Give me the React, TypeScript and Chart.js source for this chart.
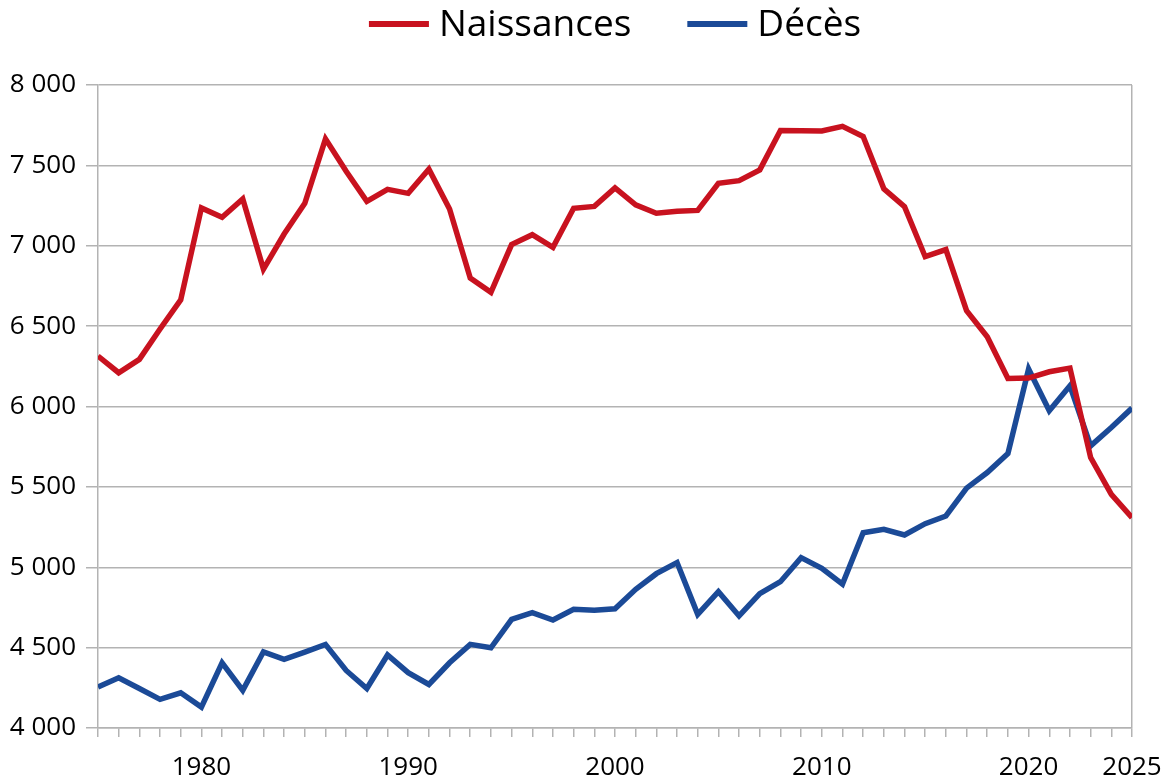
import React, { useEffect, useRef } from "react";
import { Chart, registerables } from "chart.js";

Chart.register(...registerables);

const years = [
  1975, 1976, 1977, 1978, 1979, 1980, 1981, 1982, 1983, 1984,
  1985, 1986, 1987, 1988, 1989, 1990, 1991, 1992, 1993, 1994,
  1995, 1996, 1997, 1998, 1999, 2000, 2001, 2002, 2003, 2004,
  2005, 2006, 2007, 2008, 2009, 2010, 2011, 2012, 2013, 2014,
  2015, 2016, 2017, 2018, 2019, 2020, 2021, 2022, 2023, 2024,
  2025,
];

const naissances = [
  6314, 6210, 6293, 6482, 6664, 7235, 7177, 7291, 6855, 7073,
  7264, 7665, 7463, 7276, 7351, 7326, 7476, 7229, 6799, 6710,
  7007, 7069, 6990, 7233, 7245, 7360, 7254, 7202, 7214, 7220,
  7389, 7405, 7472, 7717, 7715, 7714, 7743, 7679, 7354, 7243,
  6932, 6976, 6596, 6434, 6174, 6177, 6216, 6239, 5682, 5454,
  5309,
];

const deces = [
  4255, 4312, 4246, 4178, 4219, 4130, 4406, 4234, 4474, 4427,
  4472, 4520, 4358, 4246, 4454, 4344, 4271, 4406, 4520, 4499,
  4676, 4717, 4672, 4738, 4732, 4742, 4863, 4960, 5029, 4707,
  4848, 4697, 4836, 4910, 5060, 4994, 4895, 5215, 5236, 5201,
  5271, 5319, 5492, 5589, 5707, 6233, 5973, 6129, 5755, 5869,
  5990,
];

const labeledYears = [1980, 1990, 2000, 2010, 2020, 2025];
const seriesNames = ["Naissances", "Décès"];
const seriesColors = ["#c8121f", "#1b4a97"];

const FONT = "'Open Sans', 'Noto Sans', sans-serif";
const GRID = "#b3b3b3";

const formatThousands = (v: number) => {
  const s = Math.round(v).toString();
  return s.replace(/\B(?=(\d{3})+(?!\d))/g, " ");
};

const customLegend = {
  id: "customLegend",
  afterDraw(chart: any) {
    const ctx = chart.ctx;
    const area = chart.chartArea;
    const lineW = 60;
    const gapText = 10;
    const gapItems = 56;
    ctx.save();
    ctx.font = `37px ${FONT}`;
    const items = chart.data.datasets.map((ds: any) => ({
      text: ds.label,
      color: ds.borderColor,
      w: ctx.measureText(ds.label).width,
    }));
    let total = 0;
    items.forEach((it: any, i: number) => {
      total += lineW + gapText + it.w + (i < items.length - 1 ? gapItems : 0);
    });
    let x = (area.left + area.right) / 2 - total / 2;
    const cy = 24;
    ctx.textBaseline = "middle";
    ctx.textAlign = "left";
    items.forEach((it: any) => {
      ctx.fillStyle = it.color;
      ctx.fillRect(x, cy - 3, lineW, 6);
      x += lineW + gapText;
      ctx.fillStyle = "#000";
      ctx.fillText(it.text, x, cy + 1);
      x += it.w + gapItems;
    });
    ctx.restore();
  },
};

export default function App() {
  const canvasRef = useRef<HTMLCanvasElement | null>(null);

  useEffect(() => {
    document.body.style.margin = "0";
    const canvas = canvasRef.current;
    if (!canvas) return;
    const series = [naissances, deces];
    const chart = new Chart(canvas, {
      type: "line",
      data: {
        datasets: series.map((vals, si) => ({
          label: seriesNames[si],
          data: years.map((yr, i) => ({ x: yr, y: vals[i] })),
          borderColor: seriesColors[si],
          backgroundColor: seriesColors[si],
          borderWidth: 5.5,
          pointRadius: 0,
          pointHoverRadius: 0,
          tension: 0,
          fill: false,
        })),
      },
      options: {
        animation: false,
        responsive: true,
        maintainAspectRatio: false,
        layout: { padding: { top: 85, right: 32, left: 0, bottom: 0 } },
        plugins: {
          legend: { display: false },
          tooltip: { enabled: false },
        },
        scales: {
          x: {
            type: "linear",
            min: 1975,
            max: 2025,
            afterFit: (scale: any) => {
              scale.height = 51;
              scale.paddingLeft = 0;
              scale.paddingRight = 0;
            },
            afterBuildTicks: (scale: any) => {
              scale.ticks = years.map((yr) => ({ value: yr }));
            },
            ticks: {
              autoSkip: false,
              maxRotation: 0,
              minRotation: 0,
              padding: 15,
              color: "#000",
              font: { family: FONT, size: 26 },
              callback: (v: any) =>
                labeledYears.includes(Number(v)) ? String(v) : "",
            },
            grid: {
              drawOnChartArea: true,
              color: (c: any) =>
                c.tick && c.tick.value === 2025 ? GRID : "rgba(0,0,0,0)",
              tickColor: GRID,
              tickLength: 9,
              lineWidth: 1.5,
            },
            border: { display: true, color: GRID, width: 1.5 },
          },
          y: {
            min: 4000,
            max: 8000,
            afterFit: (scale: any) => {
              scale.width = 98;
            },
            ticks: {
              stepSize: 500,
              padding: 10,
              color: "#000",
              font: { family: FONT, size: 26 },
              callback: (v: any) => formatThousands(Number(v)),
            },
            grid: {
              color: GRID,
              tickColor: GRID,
              tickLength: 12,
              lineWidth: 1.5,
            },
            border: { display: true, color: GRID, width: 1.5 },
          },
        },
      },
      plugins: [customLegend],
    });
    return () => chart.destroy();
  }, []);

  return (
    <div style={{ width: 1164, height: 779, position: "relative", background: "#fff" }}>
      <canvas ref={canvasRef} />
    </div>
  );
}
